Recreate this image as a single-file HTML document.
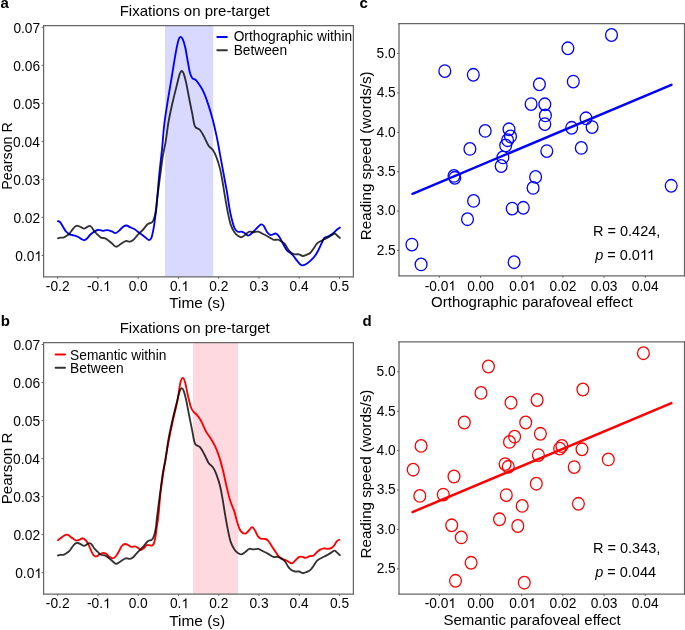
<!DOCTYPE html>
<html><head><meta charset="utf-8"><style>
html,body{margin:0;padding:0;background:#fff;}
body{width:685px;height:630px;overflow:hidden;}
svg{display:block;will-change:transform;font-family:"Liberation Sans",sans-serif;}
text{fill:#000;}
</style></head><body>
<svg width="685" height="630" viewBox="0 0 685 630">
<rect x="165.00" y="25.50" width="48.20" height="251.30" fill="#d9d9ff"/>
<path d="M58.00 221.10 C58.38 221.30 59.40 221.23 60.30 222.30 C61.20 223.37 62.45 225.97 63.40 227.50 C64.35 229.03 65.05 230.40 66.00 231.50 C66.95 232.60 68.08 233.52 69.10 234.10 C70.12 234.68 71.02 234.72 72.10 235.00 C73.18 235.28 74.50 235.43 75.60 235.80 C76.70 236.17 77.67 236.62 78.70 237.20 C79.73 237.78 80.85 238.80 81.80 239.30 C82.75 239.80 83.53 240.33 84.40 240.20 C85.27 240.07 85.98 239.45 87.00 238.50 C88.02 237.55 89.33 235.60 90.50 234.50 C91.67 233.40 92.83 232.65 94.00 231.90 C95.17 231.15 96.33 230.27 97.50 230.00 C98.67 229.73 99.97 230.17 101.00 230.30 C102.03 230.43 102.67 230.83 103.70 230.80 C104.73 230.77 105.85 230.00 107.20 230.10 C108.55 230.20 110.40 230.90 111.80 231.40 C113.20 231.90 114.33 233.25 115.60 233.10 C116.87 232.95 118.13 231.57 119.40 230.50 C120.67 229.43 122.00 227.53 123.20 226.70 C124.40 225.87 125.48 225.43 126.60 225.50 C127.72 225.57 128.63 226.52 129.90 227.10 C131.17 227.68 132.93 228.28 134.20 229.00 C135.47 229.72 136.32 230.52 137.50 231.40 C138.68 232.28 139.95 233.27 141.30 234.30 C142.65 235.33 144.32 236.65 145.60 237.60 C146.88 238.55 148.05 239.92 149.00 240.00 C149.95 240.08 150.67 239.37 151.30 238.10 C151.93 236.83 152.32 234.62 152.80 232.40 C153.28 230.18 153.73 227.82 154.20 224.80 C154.67 221.78 155.20 217.48 155.60 214.30 C156.00 211.12 155.98 212.37 156.60 205.70 C157.22 199.03 158.38 183.82 159.30 174.30 C160.22 164.78 161.28 156.82 162.10 148.60 C162.92 140.38 163.27 132.90 164.20 125.00 C165.13 117.10 166.45 109.13 167.70 101.20 C168.95 93.27 170.38 85.33 171.70 77.40 C173.02 69.47 174.47 59.82 175.60 53.60 C176.73 47.38 177.70 42.88 178.50 40.10 C179.30 37.32 179.68 37.03 180.40 36.90 C181.12 36.77 182.00 37.58 182.80 39.30 C183.60 41.02 184.42 43.77 185.20 47.20 C185.98 50.63 186.72 55.67 187.50 59.90 C188.28 64.13 189.10 69.55 189.90 72.60 C190.70 75.65 191.37 77.00 192.30 78.20 C193.23 79.40 194.43 78.88 195.50 79.80 C196.57 80.72 197.38 81.72 198.70 83.70 C200.02 85.68 201.82 88.25 203.40 91.70 C204.98 95.15 206.62 99.65 208.20 104.40 C209.78 109.15 211.42 114.50 212.90 120.20 C214.38 125.90 215.92 132.92 217.10 138.60 C218.28 144.28 219.03 149.07 220.00 154.30 C220.97 159.53 221.98 165.05 222.90 170.00 C223.82 174.95 224.78 180.12 225.50 184.00 C226.22 187.88 226.55 189.33 227.20 193.30 C227.85 197.27 228.65 203.53 229.40 207.80 C230.15 212.07 230.87 215.57 231.70 218.90 C232.53 222.23 233.38 225.67 234.40 227.80 C235.42 229.93 236.58 231.05 237.80 231.70 C239.02 232.35 240.50 231.43 241.70 231.70 C242.90 231.97 243.90 232.65 245.00 233.30 C246.10 233.95 247.18 235.60 248.30 235.60 C249.42 235.60 250.40 234.42 251.70 233.30 C253.00 232.18 254.53 230.38 256.10 228.90 C257.67 227.42 259.80 224.87 261.10 224.40 C262.40 223.93 262.88 224.80 263.90 226.10 C264.92 227.40 266.08 230.72 267.20 232.20 C268.32 233.68 269.22 234.78 270.60 235.00 C271.98 235.22 274.23 233.43 275.50 233.50 C276.77 233.57 277.30 234.38 278.20 235.40 C279.10 236.42 279.98 238.00 280.90 239.60 C281.82 241.20 282.68 243.18 283.70 245.00 C284.72 246.82 285.90 249.18 287.00 250.50 C288.10 251.82 289.22 251.98 290.30 252.90 C291.38 253.82 292.42 254.75 293.50 256.00 C294.58 257.25 295.70 259.03 296.80 260.40 C297.90 261.77 299.10 263.38 300.10 264.20 C301.10 265.02 301.70 265.38 302.80 265.30 C303.90 265.22 305.32 264.57 306.70 263.70 C308.08 262.83 309.73 261.38 311.10 260.10 C312.47 258.82 313.72 257.60 314.90 256.00 C316.08 254.40 317.10 252.60 318.20 250.50 C319.30 248.40 320.50 245.45 321.50 243.40 C322.50 241.35 323.30 239.30 324.20 238.20 C325.10 237.10 325.90 237.27 326.90 236.80 C327.90 236.33 329.10 236.03 330.20 235.40 C331.30 234.77 332.40 233.95 333.50 233.00 C334.60 232.05 335.73 230.62 336.80 229.70 C337.87 228.78 339.38 227.87 339.90 227.50" fill="none" stroke="#0000ff" stroke-width="1.85" stroke-linejoin="round" stroke-linecap="round"/>
<path d="M58.00 238.30 C58.38 238.18 59.40 237.72 60.30 237.60 C61.20 237.48 62.45 237.82 63.40 237.60 C64.35 237.38 64.98 236.97 66.00 236.30 C67.02 235.63 68.33 234.85 69.50 233.60 C70.67 232.35 71.98 230.03 73.00 228.80 C74.02 227.57 74.80 226.70 75.60 226.20 C76.40 225.70 76.92 225.65 77.80 225.80 C78.68 225.95 79.87 226.63 80.90 227.10 C81.93 227.57 82.98 228.60 84.00 228.60 C85.02 228.60 86.05 227.55 87.00 227.10 C87.95 226.65 88.88 225.83 89.70 225.90 C90.52 225.97 91.10 226.57 91.90 227.50 C92.70 228.43 93.57 230.33 94.50 231.50 C95.43 232.67 96.42 233.48 97.50 234.50 C98.58 235.52 99.82 236.98 101.00 237.60 C102.18 238.22 103.42 237.77 104.60 238.20 C105.78 238.63 106.90 239.35 108.10 240.20 C109.30 241.05 110.47 242.22 111.80 243.30 C113.13 244.38 114.67 246.53 116.10 246.70 C117.53 246.87 118.82 245.23 120.40 244.30 C121.98 243.37 124.02 241.53 125.60 241.10 C127.18 240.67 128.63 241.88 129.90 241.70 C131.17 241.52 131.93 241.08 133.20 240.00 C134.47 238.92 135.83 236.95 137.50 235.20 C139.17 233.45 141.53 231.32 143.20 229.50 C144.87 227.68 146.22 225.40 147.50 224.30 C148.78 223.20 150.02 223.38 150.90 222.90 C151.78 222.42 152.17 222.52 152.80 221.40 C153.43 220.28 154.15 218.33 154.70 216.20 C155.25 214.07 155.72 211.30 156.10 208.60 C156.48 205.90 156.35 205.27 157.00 200.00 C157.65 194.73 159.02 184.38 160.00 177.00 C160.98 169.62 161.95 161.63 162.90 155.70 C163.85 149.77 164.77 147.02 165.70 141.40 C166.63 135.78 167.37 128.43 168.50 122.00 C169.63 115.57 171.05 109.18 172.50 102.80 C173.95 96.42 176.02 88.47 177.20 83.70 C178.38 78.93 178.85 76.32 179.60 74.20 C180.35 72.08 181.03 71.13 181.70 71.00 C182.37 70.87 182.88 71.55 183.60 73.40 C184.32 75.25 185.08 78.00 186.00 82.10 C186.92 86.20 188.05 92.70 189.10 98.00 C190.15 103.30 191.32 109.17 192.30 113.90 C193.28 118.63 193.72 123.72 195.00 126.40 C196.28 129.08 198.45 128.22 200.00 130.00 C201.55 131.78 202.87 134.48 204.30 137.10 C205.73 139.72 207.17 143.55 208.60 145.70 C210.03 147.85 211.60 148.10 212.90 150.00 C214.20 151.90 215.22 154.00 216.40 157.10 C217.58 160.20 218.97 164.45 220.00 168.60 C221.03 172.75 221.77 177.32 222.60 182.00 C223.43 186.68 224.13 191.67 225.00 196.70 C225.87 201.73 226.87 207.58 227.80 212.20 C228.73 216.82 229.50 221.07 230.60 224.40 C231.70 227.73 233.12 230.25 234.40 232.20 C235.68 234.15 237.08 235.27 238.30 236.10 C239.52 236.93 240.58 237.38 241.70 237.20 C242.82 237.02 243.72 235.92 245.00 235.00 C246.28 234.08 248.02 232.17 249.40 231.70 C250.78 231.23 251.82 232.20 253.30 232.20 C254.78 232.20 256.72 231.42 258.30 231.70 C259.88 231.98 261.13 233.07 262.80 233.90 C264.47 234.73 266.47 235.72 268.30 236.70 C270.13 237.68 272.23 239.32 273.80 239.80 C275.37 240.28 276.52 239.37 277.70 239.60 C278.88 239.83 279.72 240.48 280.90 241.20 C282.08 241.92 283.60 242.53 284.80 243.90 C286.00 245.27 287.00 247.90 288.10 249.40 C289.20 250.90 290.22 252.08 291.40 252.90 C292.58 253.72 293.93 254.07 295.20 254.30 C296.47 254.53 297.73 254.02 299.00 254.30 C300.27 254.58 301.52 255.93 302.80 256.00 C304.08 256.07 305.42 255.25 306.70 254.70 C307.98 254.15 309.32 253.77 310.50 252.70 C311.68 251.63 312.70 249.85 313.80 248.30 C314.90 246.75 315.92 244.62 317.10 243.40 C318.28 242.18 319.72 241.68 320.90 241.00 C322.08 240.32 323.02 239.90 324.20 239.30 C325.38 238.70 326.82 238.05 328.00 237.40 C329.18 236.75 330.20 236.05 331.30 235.40 C332.40 234.75 333.68 233.53 334.60 233.50 C335.52 233.47 335.92 234.47 336.80 235.20 C337.68 235.93 339.38 237.45 339.90 237.90" fill="none" stroke="rgba(0,0,0,0.8)" stroke-width="1.85" stroke-linejoin="round" stroke-linecap="round"/>
<line x1="43.60" y1="25.00" x2="43.60" y2="277.30" stroke="#666" stroke-width="1.25"/>
<line x1="353.40" y1="25.00" x2="353.40" y2="277.30" stroke="#666" stroke-width="1.25"/>
<line x1="43.10" y1="25.50" x2="353.90" y2="25.50" stroke="#666" stroke-width="1.25"/>
<line x1="43.10" y1="276.80" x2="353.90" y2="276.80" stroke="#666" stroke-width="1.25"/>
<line x1="41.60" y1="27.30" x2="43.60" y2="27.30" stroke="#666" stroke-width="1"/>
<text x="13.38" y="32.78" font-size="13.75" text-anchor="start" >0.07</text>
<line x1="41.60" y1="65.32" x2="43.60" y2="65.32" stroke="#666" stroke-width="1"/>
<text x="13.29" y="70.80" font-size="13.75" text-anchor="start" >0.06</text>
<line x1="41.60" y1="103.34" x2="43.60" y2="103.34" stroke="#666" stroke-width="1"/>
<text x="13.27" y="108.82" font-size="13.75" text-anchor="start" >0.05</text>
<line x1="41.60" y1="141.36" x2="43.60" y2="141.36" stroke="#666" stroke-width="1"/>
<text x="13.09" y="146.84" font-size="13.75" text-anchor="start" >0.04</text>
<line x1="41.60" y1="179.38" x2="43.60" y2="179.38" stroke="#666" stroke-width="1"/>
<text x="13.29" y="184.86" font-size="13.75" text-anchor="start" >0.03</text>
<line x1="41.60" y1="217.40" x2="43.60" y2="217.40" stroke="#666" stroke-width="1"/>
<text x="13.38" y="222.88" font-size="13.75" text-anchor="start" >0.02</text>
<line x1="41.60" y1="255.42" x2="43.60" y2="255.42" stroke="#666" stroke-width="1"/>
<path transform="translate(34.327 260.901) scale(0.00671 -0.00671)" d="M763 0L583 0L583 1147Q518 1085 412.5 1023Q307 961 223 930L223 1104Q374 1175 486.5 1275.5Q599 1376 647 1472L763 1472Z"/>
<text x="15.21" y="260.90" font-size="13.75" text-anchor="start" >0.0 </text>
<line x1="57.67" y1="276.80" x2="57.67" y2="278.80" stroke="#666" stroke-width="1"/>
<text x="45.86" y="291.00" font-size="13.75" text-anchor="start" >-0.2</text>
<line x1="97.93" y1="276.80" x2="97.93" y2="278.80" stroke="#666" stroke-width="1"/>
<path transform="translate(103.086 291.000) scale(0.00671 -0.00671)" d="M763 0L583 0L583 1147Q518 1085 412.5 1023Q307 961 223 930L223 1104Q374 1175 486.5 1275.5Q599 1376 647 1472L763 1472Z"/>
<text x="87.04" y="291.00" font-size="13.75" text-anchor="start" >-0. </text>
<line x1="138.19" y1="276.80" x2="138.19" y2="278.80" stroke="#666" stroke-width="1"/>
<text x="128.63" y="291.00" font-size="13.75" text-anchor="start" >0.0</text>
<line x1="178.45" y1="276.80" x2="178.45" y2="278.80" stroke="#666" stroke-width="1"/>
<path transform="translate(181.354 291.000) scale(0.00671 -0.00671)" d="M763 0L583 0L583 1147Q518 1085 412.5 1023Q307 961 223 930L223 1104Q374 1175 486.5 1275.5Q599 1376 647 1472L763 1472Z"/>
<text x="169.89" y="291.00" font-size="13.75" text-anchor="start" >0. </text>
<line x1="218.71" y1="276.80" x2="218.71" y2="278.80" stroke="#666" stroke-width="1"/>
<text x="209.23" y="291.00" font-size="13.75" text-anchor="start" >0.2</text>
<line x1="258.97" y1="276.80" x2="258.97" y2="278.80" stroke="#666" stroke-width="1"/>
<text x="249.45" y="291.00" font-size="13.75" text-anchor="start" >0.3</text>
<line x1="299.23" y1="276.80" x2="299.23" y2="278.80" stroke="#666" stroke-width="1"/>
<text x="289.61" y="291.00" font-size="13.75" text-anchor="start" >0.4</text>
<line x1="339.49" y1="276.80" x2="339.49" y2="278.80" stroke="#666" stroke-width="1"/>
<text x="329.95" y="291.00" font-size="13.75" text-anchor="start" >0.5</text>
<text x="119.67" y="16.00" font-size="15.00" text-anchor="start" >Fixations on pre-target</text>
<text x="169.25" y="307.60" font-size="15.40" text-anchor="start" >Time (s)</text>
<text transform="translate(11.95 155.9) rotate(-90)" font-size="14.3" text-anchor="middle">Pearson R</text>
<line x1="217.30" y1="36.95" x2="226.90" y2="36.95" stroke="#0000ff" stroke-width="2.0" stroke-linecap="round"/>
<text x="233.65" y="41.20" font-size="13.75" text-anchor="start" >Orthographic within</text>
<line x1="217.30" y1="50.20" x2="226.90" y2="50.20" stroke="#333333" stroke-width="2.0" stroke-linecap="round"/>
<text x="233.65" y="55.00" font-size="13.75" text-anchor="start" >Between</text>
<text x="0.45" y="7.70" font-size="15.00" text-anchor="start" font-weight="bold" >a</text>
<rect x="192.95" y="342.70" width="45.10" height="251.30" fill="#ffd9e0"/>
<path d="M58.00 540.30 C58.47 539.93 59.83 538.87 60.80 538.10 C61.77 537.33 62.78 536.28 63.80 535.70 C64.82 535.12 65.95 534.57 66.90 534.60 C67.85 534.63 68.48 535.23 69.50 535.90 C70.52 536.57 71.83 537.82 73.00 538.60 C74.17 539.38 75.33 540.45 76.50 540.60 C77.67 540.75 78.90 539.88 80.00 539.50 C81.10 539.12 82.07 538.08 83.10 538.30 C84.13 538.52 85.25 539.67 86.20 540.80 C87.15 541.93 87.93 543.35 88.80 545.10 C89.67 546.85 90.53 549.53 91.40 551.30 C92.27 553.07 93.12 554.85 94.00 555.70 C94.88 556.55 95.75 556.63 96.70 556.40 C97.65 556.17 98.62 554.88 99.70 554.30 C100.78 553.72 102.10 552.97 103.20 552.90 C104.30 552.83 105.35 553.32 106.30 553.90 C107.25 554.48 107.82 555.67 108.90 556.40 C109.98 557.13 111.60 558.37 112.80 558.30 C114.00 558.23 115.07 557.18 116.10 556.00 C117.13 554.82 118.05 552.87 119.00 551.20 C119.95 549.53 120.78 547.20 121.80 546.00 C122.82 544.80 124.07 544.17 125.10 544.00 C126.13 543.83 126.97 544.52 128.00 545.00 C129.03 545.48 130.12 546.67 131.30 546.90 C132.48 547.13 133.90 546.17 135.10 546.40 C136.30 546.63 137.53 547.70 138.50 548.30 C139.47 548.90 140.03 550.00 140.90 550.00 C141.77 550.00 142.68 549.13 143.70 548.30 C144.72 547.47 145.97 545.50 147.00 545.00 C148.03 544.50 149.02 545.22 149.90 545.30 C150.78 545.38 151.58 545.95 152.30 545.50 C153.02 545.05 153.65 544.18 154.20 542.60 C154.75 541.02 155.13 538.85 155.60 536.00 C156.07 533.15 156.52 529.00 157.00 525.50 C157.48 522.00 157.90 520.58 158.50 515.00 C159.10 509.42 159.73 499.50 160.60 492.00 C161.47 484.50 162.52 477.63 163.70 470.00 C164.88 462.37 166.23 454.13 167.70 446.20 C169.17 438.27 170.92 429.82 172.50 422.40 C174.08 414.98 175.88 408.32 177.20 401.70 C178.52 395.08 179.47 386.67 180.40 382.70 C181.33 378.73 182.00 377.90 182.80 377.90 C183.60 377.90 184.42 380.05 185.20 382.70 C185.98 385.35 186.58 389.83 187.50 393.80 C188.42 397.77 189.77 403.58 190.70 406.50 C191.63 409.42 192.03 409.85 193.10 411.30 C194.17 412.75 195.78 413.62 197.10 415.20 C198.42 416.78 199.55 418.15 201.00 420.80 C202.45 423.45 204.20 428.18 205.80 431.10 C207.40 434.02 209.00 435.68 210.60 438.30 C212.20 440.92 213.95 443.67 215.40 446.80 C216.85 449.93 218.05 453.23 219.30 457.10 C220.55 460.97 221.72 465.23 222.90 470.00 C224.08 474.77 225.22 480.70 226.40 485.70 C227.58 490.70 228.68 495.72 230.00 500.00 C231.32 504.28 233.15 507.90 234.30 511.40 C235.45 514.90 235.98 517.98 236.90 521.00 C237.82 524.02 238.85 527.52 239.80 529.50 C240.75 531.48 241.57 532.27 242.60 532.90 C243.63 533.53 244.88 533.78 246.00 533.30 C247.12 532.82 248.28 531.03 249.30 530.00 C250.32 528.97 251.15 527.02 252.10 527.10 C253.05 527.18 254.03 528.98 255.00 530.50 C255.97 532.02 256.95 534.85 257.90 536.20 C258.85 537.55 259.43 538.13 260.70 538.60 C261.97 539.07 264.23 538.60 265.50 539.00 C266.77 539.40 267.20 539.72 268.30 541.00 C269.40 542.28 270.82 544.80 272.10 546.70 C273.38 548.60 274.88 550.73 276.00 552.40 C277.12 554.07 277.70 555.60 278.80 556.70 C279.90 557.80 281.33 558.37 282.60 559.00 C283.87 559.63 285.45 560.05 286.40 560.50 C287.35 560.95 287.35 561.23 288.30 561.70 C289.25 562.17 290.90 563.55 292.10 563.30 C293.30 563.05 294.30 561.27 295.50 560.20 C296.70 559.13 298.12 557.45 299.30 556.90 C300.48 556.35 301.57 556.73 302.60 556.90 C303.63 557.07 304.30 558.02 305.50 557.90 C306.70 557.78 308.45 556.60 309.80 556.20 C311.15 555.80 312.33 556.25 313.60 555.50 C314.87 554.75 316.30 552.68 317.40 551.70 C318.50 550.72 319.10 550.17 320.20 549.60 C321.30 549.03 322.72 548.43 324.00 548.30 C325.28 548.17 326.62 548.87 327.90 548.80 C329.18 548.73 330.60 548.53 331.70 547.90 C332.80 547.27 333.63 546.12 334.50 545.00 C335.37 543.88 336.10 542.07 336.90 541.20 C337.70 540.33 338.90 540.03 339.30 539.80" fill="none" stroke="#ff0000" stroke-width="1.85" stroke-linejoin="round" stroke-linecap="round"/>
<path d="M58.00 555.50 C58.38 555.38 59.40 554.92 60.30 554.80 C61.20 554.68 62.45 555.02 63.40 554.80 C64.35 554.58 64.98 554.17 66.00 553.50 C67.02 552.83 68.33 552.05 69.50 550.80 C70.67 549.55 71.98 547.23 73.00 546.00 C74.02 544.77 74.80 543.90 75.60 543.40 C76.40 542.90 76.92 542.85 77.80 543.00 C78.68 543.15 79.87 543.83 80.90 544.30 C81.93 544.77 82.98 545.80 84.00 545.80 C85.02 545.80 86.05 544.75 87.00 544.30 C87.95 543.85 88.88 543.03 89.70 543.10 C90.52 543.17 91.10 543.77 91.90 544.70 C92.70 545.63 93.57 547.53 94.50 548.70 C95.43 549.87 96.42 550.68 97.50 551.70 C98.58 552.72 99.82 554.18 101.00 554.80 C102.18 555.42 103.42 554.97 104.60 555.40 C105.78 555.83 106.90 556.55 108.10 557.40 C109.30 558.25 110.47 559.42 111.80 560.50 C113.13 561.58 114.67 563.73 116.10 563.90 C117.53 564.07 118.82 562.43 120.40 561.50 C121.98 560.57 124.02 558.73 125.60 558.30 C127.18 557.87 128.63 559.08 129.90 558.90 C131.17 558.72 131.93 558.28 133.20 557.20 C134.47 556.12 135.83 554.15 137.50 552.40 C139.17 550.65 141.53 548.52 143.20 546.70 C144.87 544.88 146.22 542.60 147.50 541.50 C148.78 540.40 150.02 540.58 150.90 540.10 C151.78 539.62 152.17 539.72 152.80 538.60 C153.43 537.48 154.15 535.53 154.70 533.40 C155.25 531.27 155.72 528.50 156.10 525.80 C156.48 523.10 156.35 522.47 157.00 517.20 C157.65 511.93 159.02 501.58 160.00 494.20 C160.98 486.82 161.95 478.83 162.90 472.90 C163.85 466.97 164.77 464.22 165.70 458.60 C166.63 452.98 167.37 445.63 168.50 439.20 C169.63 432.77 171.05 426.38 172.50 420.00 C173.95 413.62 176.02 405.67 177.20 400.90 C178.38 396.13 178.85 393.52 179.60 391.40 C180.35 389.28 181.03 388.33 181.70 388.20 C182.37 388.07 182.88 388.75 183.60 390.60 C184.32 392.45 185.08 395.20 186.00 399.30 C186.92 403.40 188.05 409.90 189.10 415.20 C190.15 420.50 191.32 426.37 192.30 431.10 C193.28 435.83 193.72 440.92 195.00 443.60 C196.28 446.28 198.45 445.42 200.00 447.20 C201.55 448.98 202.87 451.68 204.30 454.30 C205.73 456.92 207.17 460.75 208.60 462.90 C210.03 465.05 211.60 465.30 212.90 467.20 C214.20 469.10 215.22 471.20 216.40 474.30 C217.58 477.40 218.97 481.65 220.00 485.80 C221.03 489.95 221.77 494.52 222.60 499.20 C223.43 503.88 224.13 508.87 225.00 513.90 C225.87 518.93 226.87 524.78 227.80 529.40 C228.73 534.02 229.50 538.27 230.60 541.60 C231.70 544.93 233.12 547.45 234.40 549.40 C235.68 551.35 237.08 552.47 238.30 553.30 C239.52 554.13 240.58 554.58 241.70 554.40 C242.82 554.22 243.72 553.12 245.00 552.20 C246.28 551.28 248.02 549.37 249.40 548.90 C250.78 548.43 251.82 549.40 253.30 549.40 C254.78 549.40 256.72 548.62 258.30 548.90 C259.88 549.18 261.13 550.27 262.80 551.10 C264.47 551.93 266.47 552.92 268.30 553.90 C270.13 554.88 272.23 556.52 273.80 557.00 C275.37 557.48 276.52 556.57 277.70 556.80 C278.88 557.03 279.72 557.68 280.90 558.40 C282.08 559.12 283.60 559.73 284.80 561.10 C286.00 562.47 287.00 565.10 288.10 566.60 C289.20 568.10 290.22 569.28 291.40 570.10 C292.58 570.92 293.93 571.27 295.20 571.50 C296.47 571.73 297.73 571.22 299.00 571.50 C300.27 571.78 301.52 573.13 302.80 573.20 C304.08 573.27 305.42 572.45 306.70 571.90 C307.98 571.35 309.32 570.97 310.50 569.90 C311.68 568.83 312.70 567.05 313.80 565.50 C314.90 563.95 315.92 561.82 317.10 560.60 C318.28 559.38 319.72 558.88 320.90 558.20 C322.08 557.52 323.02 557.10 324.20 556.50 C325.38 555.90 326.82 555.25 328.00 554.60 C329.18 553.95 330.20 553.25 331.30 552.60 C332.40 551.95 333.68 550.73 334.60 550.70 C335.52 550.67 335.92 551.67 336.80 552.40 C337.68 553.13 339.38 554.65 339.90 555.10" fill="none" stroke="rgba(0,0,0,0.8)" stroke-width="1.85" stroke-linejoin="round" stroke-linecap="round"/>
<line x1="43.60" y1="342.20" x2="43.60" y2="594.50" stroke="#666" stroke-width="1.25"/>
<line x1="353.40" y1="342.20" x2="353.40" y2="594.50" stroke="#666" stroke-width="1.25"/>
<line x1="43.10" y1="342.70" x2="353.90" y2="342.70" stroke="#666" stroke-width="1.25"/>
<line x1="43.10" y1="594.00" x2="353.90" y2="594.00" stroke="#666" stroke-width="1.25"/>
<line x1="41.60" y1="344.50" x2="43.60" y2="344.50" stroke="#666" stroke-width="1"/>
<text x="13.38" y="349.98" font-size="13.75" text-anchor="start" >0.07</text>
<line x1="41.60" y1="382.52" x2="43.60" y2="382.52" stroke="#666" stroke-width="1"/>
<text x="13.29" y="388.00" font-size="13.75" text-anchor="start" >0.06</text>
<line x1="41.60" y1="420.54" x2="43.60" y2="420.54" stroke="#666" stroke-width="1"/>
<text x="13.27" y="426.02" font-size="13.75" text-anchor="start" >0.05</text>
<line x1="41.60" y1="458.56" x2="43.60" y2="458.56" stroke="#666" stroke-width="1"/>
<text x="13.09" y="464.04" font-size="13.75" text-anchor="start" >0.04</text>
<line x1="41.60" y1="496.58" x2="43.60" y2="496.58" stroke="#666" stroke-width="1"/>
<text x="13.29" y="502.06" font-size="13.75" text-anchor="start" >0.03</text>
<line x1="41.60" y1="534.60" x2="43.60" y2="534.60" stroke="#666" stroke-width="1"/>
<text x="13.38" y="540.08" font-size="13.75" text-anchor="start" >0.02</text>
<line x1="41.60" y1="572.62" x2="43.60" y2="572.62" stroke="#666" stroke-width="1"/>
<path transform="translate(34.327 578.101) scale(0.00671 -0.00671)" d="M763 0L583 0L583 1147Q518 1085 412.5 1023Q307 961 223 930L223 1104Q374 1175 486.5 1275.5Q599 1376 647 1472L763 1472Z"/>
<text x="15.21" y="578.10" font-size="13.75" text-anchor="start" >0.0 </text>
<line x1="57.67" y1="594.00" x2="57.67" y2="596.00" stroke="#666" stroke-width="1"/>
<text x="45.86" y="608.20" font-size="13.75" text-anchor="start" >-0.2</text>
<line x1="97.93" y1="594.00" x2="97.93" y2="596.00" stroke="#666" stroke-width="1"/>
<path transform="translate(103.086 608.200) scale(0.00671 -0.00671)" d="M763 0L583 0L583 1147Q518 1085 412.5 1023Q307 961 223 930L223 1104Q374 1175 486.5 1275.5Q599 1376 647 1472L763 1472Z"/>
<text x="87.04" y="608.20" font-size="13.75" text-anchor="start" >-0. </text>
<line x1="138.19" y1="594.00" x2="138.19" y2="596.00" stroke="#666" stroke-width="1"/>
<text x="128.63" y="608.20" font-size="13.75" text-anchor="start" >0.0</text>
<line x1="178.45" y1="594.00" x2="178.45" y2="596.00" stroke="#666" stroke-width="1"/>
<path transform="translate(181.354 608.200) scale(0.00671 -0.00671)" d="M763 0L583 0L583 1147Q518 1085 412.5 1023Q307 961 223 930L223 1104Q374 1175 486.5 1275.5Q599 1376 647 1472L763 1472Z"/>
<text x="169.89" y="608.20" font-size="13.75" text-anchor="start" >0. </text>
<line x1="218.71" y1="594.00" x2="218.71" y2="596.00" stroke="#666" stroke-width="1"/>
<text x="209.23" y="608.20" font-size="13.75" text-anchor="start" >0.2</text>
<line x1="258.97" y1="594.00" x2="258.97" y2="596.00" stroke="#666" stroke-width="1"/>
<text x="249.45" y="608.20" font-size="13.75" text-anchor="start" >0.3</text>
<line x1="299.23" y1="594.00" x2="299.23" y2="596.00" stroke="#666" stroke-width="1"/>
<text x="289.61" y="608.20" font-size="13.75" text-anchor="start" >0.4</text>
<line x1="339.49" y1="594.00" x2="339.49" y2="596.00" stroke="#666" stroke-width="1"/>
<text x="329.95" y="608.20" font-size="13.75" text-anchor="start" >0.5</text>
<text x="119.67" y="333.20" font-size="15.00" text-anchor="start" >Fixations on pre-target</text>
<text x="169.25" y="626.30" font-size="15.40" text-anchor="start" >Time (s)</text>
<text transform="translate(11.75 468.4) rotate(-90)" font-size="15.2" text-anchor="middle">Pearson R</text>
<line x1="55.60" y1="354.50" x2="65.00" y2="354.50" stroke="#ff0000" stroke-width="2.0" stroke-linecap="round"/>
<text x="70.08" y="359.90" font-size="13.75" text-anchor="start" >Semantic within</text>
<line x1="55.60" y1="367.75" x2="65.00" y2="367.75" stroke="#333333" stroke-width="2.0" stroke-linecap="round"/>
<text x="70.08" y="373.10" font-size="13.75" text-anchor="start" >Between</text>
<text x="0.80" y="326.40" font-size="15.00" text-anchor="start" font-weight="bold" >b</text>
<line x1="399.00" y1="23.10" x2="399.00" y2="276.30" stroke="#666" stroke-width="1.25"/>
<line x1="684.50" y1="23.10" x2="684.50" y2="276.30" stroke="#666" stroke-width="1.25"/>
<line x1="398.50" y1="23.60" x2="685.00" y2="23.60" stroke="#666" stroke-width="1.25"/>
<line x1="398.50" y1="275.80" x2="685.00" y2="275.80" stroke="#666" stroke-width="1.25"/>
<line x1="397.00" y1="53.50" x2="399.00" y2="53.50" stroke="#666" stroke-width="1"/>
<text x="376.62" y="57.88" font-size="13.75" text-anchor="start" >5.0</text>
<line x1="397.00" y1="92.90" x2="399.00" y2="92.90" stroke="#666" stroke-width="1"/>
<text x="376.66" y="97.28" font-size="13.75" text-anchor="start" >4.5</text>
<line x1="397.00" y1="132.30" x2="399.00" y2="132.30" stroke="#666" stroke-width="1"/>
<text x="376.62" y="136.68" font-size="13.75" text-anchor="start" >4.0</text>
<line x1="397.00" y1="171.70" x2="399.00" y2="171.70" stroke="#666" stroke-width="1"/>
<text x="376.66" y="176.08" font-size="13.75" text-anchor="start" >3.5</text>
<line x1="397.00" y1="211.10" x2="399.00" y2="211.10" stroke="#666" stroke-width="1"/>
<text x="376.62" y="215.48" font-size="13.75" text-anchor="start" >3.0</text>
<line x1="397.00" y1="250.50" x2="399.00" y2="250.50" stroke="#666" stroke-width="1"/>
<text x="376.66" y="254.88" font-size="13.75" text-anchor="start" >2.5</text>
<line x1="439.35" y1="275.80" x2="439.35" y2="277.80" stroke="#666" stroke-width="1"/>
<path transform="translate(448.330 290.600) scale(0.00671 -0.00671)" d="M763 0L583 0L583 1147Q518 1085 412.5 1023Q307 961 223 930L223 1104Q374 1175 486.5 1275.5Q599 1376 647 1472L763 1472Z"/>
<text x="424.64" y="290.60" font-size="13.75" text-anchor="start" >-0.0 </text>
<line x1="480.53" y1="275.80" x2="480.53" y2="277.80" stroke="#666" stroke-width="1"/>
<text x="467.15" y="290.60" font-size="13.75" text-anchor="start" >0.00</text>
<line x1="521.71" y1="275.80" x2="521.71" y2="277.80" stroke="#666" stroke-width="1"/>
<path transform="translate(528.437 290.600) scale(0.00671 -0.00671)" d="M763 0L583 0L583 1147Q518 1085 412.5 1023Q307 961 223 930L223 1104Q374 1175 486.5 1275.5Q599 1376 647 1472L763 1472Z"/>
<text x="509.32" y="290.60" font-size="13.75" text-anchor="start" >0.0 </text>
<line x1="562.89" y1="275.80" x2="562.89" y2="277.80" stroke="#666" stroke-width="1"/>
<text x="549.59" y="290.60" font-size="13.75" text-anchor="start" >0.02</text>
<line x1="604.07" y1="275.80" x2="604.07" y2="277.80" stroke="#666" stroke-width="1"/>
<text x="590.72" y="290.60" font-size="13.75" text-anchor="start" >0.03</text>
<line x1="645.25" y1="275.80" x2="645.25" y2="277.80" stroke="#666" stroke-width="1"/>
<text x="631.80" y="290.60" font-size="13.75" text-anchor="start" >0.04</text>
<ellipse cx="611.50" cy="35.00" rx="5.9" ry="6.3" fill="none" stroke="#0000ff" stroke-width="1.3"/>
<ellipse cx="567.90" cy="48.30" rx="5.9" ry="6.3" fill="none" stroke="#0000ff" stroke-width="1.3"/>
<ellipse cx="444.80" cy="71.10" rx="5.9" ry="6.3" fill="none" stroke="#0000ff" stroke-width="1.3"/>
<ellipse cx="473.30" cy="74.80" rx="5.9" ry="6.3" fill="none" stroke="#0000ff" stroke-width="1.3"/>
<ellipse cx="539.40" cy="84.30" rx="5.9" ry="6.3" fill="none" stroke="#0000ff" stroke-width="1.3"/>
<ellipse cx="573.30" cy="81.60" rx="5.9" ry="6.3" fill="none" stroke="#0000ff" stroke-width="1.3"/>
<ellipse cx="531.10" cy="104.10" rx="5.9" ry="6.3" fill="none" stroke="#0000ff" stroke-width="1.3"/>
<ellipse cx="544.80" cy="104.30" rx="5.9" ry="6.3" fill="none" stroke="#0000ff" stroke-width="1.3"/>
<ellipse cx="545.40" cy="115.40" rx="5.9" ry="6.3" fill="none" stroke="#0000ff" stroke-width="1.3"/>
<ellipse cx="544.80" cy="124.10" rx="5.9" ry="6.3" fill="none" stroke="#0000ff" stroke-width="1.3"/>
<ellipse cx="485.20" cy="130.90" rx="5.9" ry="6.3" fill="none" stroke="#0000ff" stroke-width="1.3"/>
<ellipse cx="509.00" cy="129.30" rx="5.9" ry="6.3" fill="none" stroke="#0000ff" stroke-width="1.3"/>
<ellipse cx="510.50" cy="136.40" rx="5.9" ry="6.3" fill="none" stroke="#0000ff" stroke-width="1.3"/>
<ellipse cx="507.60" cy="140.20" rx="5.9" ry="6.3" fill="none" stroke="#0000ff" stroke-width="1.3"/>
<ellipse cx="505.70" cy="145.50" rx="5.9" ry="6.3" fill="none" stroke="#0000ff" stroke-width="1.3"/>
<ellipse cx="502.90" cy="157.40" rx="5.9" ry="6.3" fill="none" stroke="#0000ff" stroke-width="1.3"/>
<ellipse cx="501.20" cy="166.00" rx="5.9" ry="6.3" fill="none" stroke="#0000ff" stroke-width="1.3"/>
<ellipse cx="469.90" cy="148.90" rx="5.9" ry="6.3" fill="none" stroke="#0000ff" stroke-width="1.3"/>
<ellipse cx="454.00" cy="175.90" rx="5.9" ry="6.3" fill="none" stroke="#0000ff" stroke-width="1.3"/>
<ellipse cx="454.80" cy="177.80" rx="5.9" ry="6.3" fill="none" stroke="#0000ff" stroke-width="1.3"/>
<ellipse cx="546.80" cy="151.10" rx="5.9" ry="6.3" fill="none" stroke="#0000ff" stroke-width="1.3"/>
<ellipse cx="535.60" cy="176.90" rx="5.9" ry="6.3" fill="none" stroke="#0000ff" stroke-width="1.3"/>
<ellipse cx="533.10" cy="187.90" rx="5.9" ry="6.3" fill="none" stroke="#0000ff" stroke-width="1.3"/>
<ellipse cx="571.70" cy="127.80" rx="5.9" ry="6.3" fill="none" stroke="#0000ff" stroke-width="1.3"/>
<ellipse cx="586.00" cy="118.30" rx="5.9" ry="6.3" fill="none" stroke="#0000ff" stroke-width="1.3"/>
<ellipse cx="592.10" cy="127.10" rx="5.9" ry="6.3" fill="none" stroke="#0000ff" stroke-width="1.3"/>
<ellipse cx="581.30" cy="147.90" rx="5.9" ry="6.3" fill="none" stroke="#0000ff" stroke-width="1.3"/>
<ellipse cx="671.20" cy="185.80" rx="5.9" ry="6.3" fill="none" stroke="#0000ff" stroke-width="1.3"/>
<ellipse cx="473.60" cy="200.90" rx="5.9" ry="6.3" fill="none" stroke="#0000ff" stroke-width="1.3"/>
<ellipse cx="467.50" cy="219.20" rx="5.9" ry="6.3" fill="none" stroke="#0000ff" stroke-width="1.3"/>
<ellipse cx="512.20" cy="208.60" rx="5.9" ry="6.3" fill="none" stroke="#0000ff" stroke-width="1.3"/>
<ellipse cx="523.30" cy="207.80" rx="5.9" ry="6.3" fill="none" stroke="#0000ff" stroke-width="1.3"/>
<ellipse cx="514.10" cy="262.20" rx="5.9" ry="6.3" fill="none" stroke="#0000ff" stroke-width="1.3"/>
<ellipse cx="411.90" cy="244.60" rx="5.9" ry="6.3" fill="none" stroke="#0000ff" stroke-width="1.3"/>
<ellipse cx="421.10" cy="264.40" rx="5.9" ry="6.3" fill="none" stroke="#0000ff" stroke-width="1.3"/>
<line x1="412.50" y1="193.78" x2="671.40" y2="84.81" stroke="#0000ff" stroke-width="2.5" stroke-linecap="round"/>
<text x="431.10" y="307.30" font-size="15.00" text-anchor="start" >Orthographic parafoveal effect</text>
<text transform="translate(371.3 155.80) rotate(-90)" font-size="15.2" text-anchor="middle">Reading speed (words/s)</text>
<text x="593.01" y="236.10" font-size="14.50" text-anchor="start" >R = 0.424,</text>
<path transform="translate(639.909 260.100) scale(0.00708 -0.00708)" d="M763 0L583 0L583 1147Q518 1085 412.5 1023Q307 961 223 930L223 1104Q374 1175 486.5 1275.5Q599 1376 647 1472L763 1472Z"/>
<path transform="translate(646.897 260.100) scale(0.00708 -0.00708)" d="M763 0L583 0L583 1147Q518 1085 412.5 1023Q307 961 223 930L223 1104Q374 1175 486.5 1275.5Q599 1376 647 1472L763 1472Z"/>
<text x="595.16" y="260.10" font-size="14.5"><tspan font-style="italic">p</tspan> = 0.0  </text>
<text x="359.50" y="8.00" font-size="15.00" text-anchor="start" font-weight="bold" >c</text>
<line x1="399.00" y1="341.40" x2="399.00" y2="594.60" stroke="#666" stroke-width="1.25"/>
<line x1="684.50" y1="341.40" x2="684.50" y2="594.60" stroke="#666" stroke-width="1.25"/>
<line x1="398.50" y1="341.90" x2="685.00" y2="341.90" stroke="#666" stroke-width="1.25"/>
<line x1="398.50" y1="594.10" x2="685.00" y2="594.10" stroke="#666" stroke-width="1.25"/>
<line x1="397.00" y1="371.80" x2="399.00" y2="371.80" stroke="#666" stroke-width="1"/>
<text x="376.62" y="376.18" font-size="13.75" text-anchor="start" >5.0</text>
<line x1="397.00" y1="411.20" x2="399.00" y2="411.20" stroke="#666" stroke-width="1"/>
<text x="376.66" y="415.58" font-size="13.75" text-anchor="start" >4.5</text>
<line x1="397.00" y1="450.60" x2="399.00" y2="450.60" stroke="#666" stroke-width="1"/>
<text x="376.62" y="454.98" font-size="13.75" text-anchor="start" >4.0</text>
<line x1="397.00" y1="490.00" x2="399.00" y2="490.00" stroke="#666" stroke-width="1"/>
<text x="376.66" y="494.38" font-size="13.75" text-anchor="start" >3.5</text>
<line x1="397.00" y1="529.40" x2="399.00" y2="529.40" stroke="#666" stroke-width="1"/>
<text x="376.62" y="533.78" font-size="13.75" text-anchor="start" >3.0</text>
<line x1="397.00" y1="568.80" x2="399.00" y2="568.80" stroke="#666" stroke-width="1"/>
<text x="376.66" y="573.18" font-size="13.75" text-anchor="start" >2.5</text>
<line x1="439.35" y1="594.10" x2="439.35" y2="596.10" stroke="#666" stroke-width="1"/>
<path transform="translate(448.330 607.900) scale(0.00671 -0.00671)" d="M763 0L583 0L583 1147Q518 1085 412.5 1023Q307 961 223 930L223 1104Q374 1175 486.5 1275.5Q599 1376 647 1472L763 1472Z"/>
<text x="424.64" y="607.90" font-size="13.75" text-anchor="start" >-0.0 </text>
<line x1="480.53" y1="594.10" x2="480.53" y2="596.10" stroke="#666" stroke-width="1"/>
<text x="467.15" y="607.90" font-size="13.75" text-anchor="start" >0.00</text>
<line x1="521.71" y1="594.10" x2="521.71" y2="596.10" stroke="#666" stroke-width="1"/>
<path transform="translate(528.437 607.900) scale(0.00671 -0.00671)" d="M763 0L583 0L583 1147Q518 1085 412.5 1023Q307 961 223 930L223 1104Q374 1175 486.5 1275.5Q599 1376 647 1472L763 1472Z"/>
<text x="509.32" y="607.90" font-size="13.75" text-anchor="start" >0.0 </text>
<line x1="562.89" y1="594.10" x2="562.89" y2="596.10" stroke="#666" stroke-width="1"/>
<text x="549.59" y="607.90" font-size="13.75" text-anchor="start" >0.02</text>
<line x1="604.07" y1="594.10" x2="604.07" y2="596.10" stroke="#666" stroke-width="1"/>
<text x="590.72" y="607.90" font-size="13.75" text-anchor="start" >0.03</text>
<line x1="645.25" y1="594.10" x2="645.25" y2="596.10" stroke="#666" stroke-width="1"/>
<text x="631.80" y="607.90" font-size="13.75" text-anchor="start" >0.04</text>
<ellipse cx="643.40" cy="353.20" rx="5.9" ry="6.3" fill="none" stroke="#ff0000" stroke-width="1.3"/>
<ellipse cx="488.40" cy="366.50" rx="5.9" ry="6.3" fill="none" stroke="#ff0000" stroke-width="1.3"/>
<ellipse cx="481.00" cy="392.90" rx="5.9" ry="6.3" fill="none" stroke="#ff0000" stroke-width="1.3"/>
<ellipse cx="464.30" cy="422.50" rx="5.9" ry="6.3" fill="none" stroke="#ff0000" stroke-width="1.3"/>
<ellipse cx="582.90" cy="389.50" rx="5.9" ry="6.3" fill="none" stroke="#ff0000" stroke-width="1.3"/>
<ellipse cx="511.00" cy="402.70" rx="5.9" ry="6.3" fill="none" stroke="#ff0000" stroke-width="1.3"/>
<ellipse cx="537.10" cy="400.00" rx="5.9" ry="6.3" fill="none" stroke="#ff0000" stroke-width="1.3"/>
<ellipse cx="525.70" cy="422.50" rx="5.9" ry="6.3" fill="none" stroke="#ff0000" stroke-width="1.3"/>
<ellipse cx="540.40" cy="433.80" rx="5.9" ry="6.3" fill="none" stroke="#ff0000" stroke-width="1.3"/>
<ellipse cx="514.60" cy="436.70" rx="5.9" ry="6.3" fill="none" stroke="#ff0000" stroke-width="1.3"/>
<ellipse cx="509.50" cy="441.90" rx="5.9" ry="6.3" fill="none" stroke="#ff0000" stroke-width="1.3"/>
<ellipse cx="421.10" cy="445.90" rx="5.9" ry="6.3" fill="none" stroke="#ff0000" stroke-width="1.3"/>
<ellipse cx="413.20" cy="469.70" rx="5.9" ry="6.3" fill="none" stroke="#ff0000" stroke-width="1.3"/>
<ellipse cx="454.00" cy="476.50" rx="5.9" ry="6.3" fill="none" stroke="#ff0000" stroke-width="1.3"/>
<ellipse cx="419.80" cy="495.90" rx="5.9" ry="6.3" fill="none" stroke="#ff0000" stroke-width="1.3"/>
<ellipse cx="443.30" cy="494.60" rx="5.9" ry="6.3" fill="none" stroke="#ff0000" stroke-width="1.3"/>
<ellipse cx="538.40" cy="455.10" rx="5.9" ry="6.3" fill="none" stroke="#ff0000" stroke-width="1.3"/>
<ellipse cx="559.70" cy="448.60" rx="5.9" ry="6.3" fill="none" stroke="#ff0000" stroke-width="1.3"/>
<ellipse cx="561.90" cy="446.00" rx="5.9" ry="6.3" fill="none" stroke="#ff0000" stroke-width="1.3"/>
<ellipse cx="582.00" cy="449.30" rx="5.9" ry="6.3" fill="none" stroke="#ff0000" stroke-width="1.3"/>
<ellipse cx="505.10" cy="464.10" rx="5.9" ry="6.3" fill="none" stroke="#ff0000" stroke-width="1.3"/>
<ellipse cx="508.30" cy="466.80" rx="5.9" ry="6.3" fill="none" stroke="#ff0000" stroke-width="1.3"/>
<ellipse cx="574.20" cy="467.10" rx="5.9" ry="6.3" fill="none" stroke="#ff0000" stroke-width="1.3"/>
<ellipse cx="536.30" cy="483.70" rx="5.9" ry="6.3" fill="none" stroke="#ff0000" stroke-width="1.3"/>
<ellipse cx="506.30" cy="495.10" rx="5.9" ry="6.3" fill="none" stroke="#ff0000" stroke-width="1.3"/>
<ellipse cx="522.20" cy="505.90" rx="5.9" ry="6.3" fill="none" stroke="#ff0000" stroke-width="1.3"/>
<ellipse cx="578.40" cy="503.80" rx="5.9" ry="6.3" fill="none" stroke="#ff0000" stroke-width="1.3"/>
<ellipse cx="499.50" cy="519.30" rx="5.9" ry="6.3" fill="none" stroke="#ff0000" stroke-width="1.3"/>
<ellipse cx="517.80" cy="526.00" rx="5.9" ry="6.3" fill="none" stroke="#ff0000" stroke-width="1.3"/>
<ellipse cx="608.30" cy="459.40" rx="5.9" ry="6.3" fill="none" stroke="#ff0000" stroke-width="1.3"/>
<ellipse cx="451.70" cy="525.30" rx="5.9" ry="6.3" fill="none" stroke="#ff0000" stroke-width="1.3"/>
<ellipse cx="461.30" cy="537.40" rx="5.9" ry="6.3" fill="none" stroke="#ff0000" stroke-width="1.3"/>
<ellipse cx="471.10" cy="562.80" rx="5.9" ry="6.3" fill="none" stroke="#ff0000" stroke-width="1.3"/>
<ellipse cx="455.50" cy="580.80" rx="5.9" ry="6.3" fill="none" stroke="#ff0000" stroke-width="1.3"/>
<ellipse cx="524.30" cy="582.70" rx="5.9" ry="6.3" fill="none" stroke="#ff0000" stroke-width="1.3"/>
<line x1="412.50" y1="512.08" x2="671.40" y2="403.11" stroke="#ff0000" stroke-width="2.5" stroke-linecap="round"/>
<text x="443.43" y="625.30" font-size="15.00" text-anchor="start" >Semantic parafoveal effect</text>
<text transform="translate(371.3 474.10) rotate(-90)" font-size="15.2" text-anchor="middle">Reading speed (words/s)</text>
<text x="593.01" y="552.70" font-size="14.50" text-anchor="start" >R = 0.343,</text>
<text x="595.16" y="577.10" font-size="14.5"><tspan font-style="italic">p</tspan> = 0.044</text>
<text x="362.40" y="326.40" font-size="15.00" text-anchor="start" font-weight="bold" >d</text>
</svg>
</body></html>
